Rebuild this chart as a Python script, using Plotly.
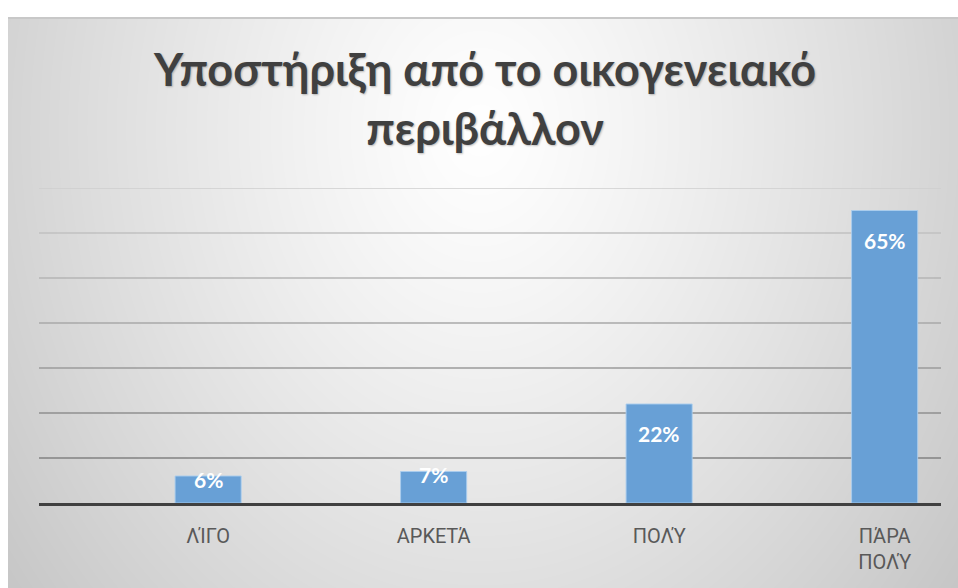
import base64, struct, zlib
import numpy as np
import plotly.graph_objects as go

# ---------------- data ----------------
categories = ["ΛΊΓΟ", "ΑΡΚΕΤΆ", "ΠΟΛΎ", "ΠΆΡΑ ΠΟΛΎ"]
tick_labels = ["ΛΊΓΟ", "ΑΡΚΕΤΆ", "ΠΟΛΎ", "ΠΆΡΑ<br>ΠΟΛΎ"]
values = [0.06, 0.07, 0.22, 0.65]
value_labels = ["6%", "7%", "22%", "65%"]
y_ticks = [0.1, 0.2, 0.3, 0.4, 0.5, 0.6, 0.7]
title_text = "Υποστήριξη από το οικογενειακό<br>περιβάλλον"

# ---------------- layout geometry ----------------
W, H = 958, 588
ML, MR, MT, MB = 39, 17, 188, 85
PW, PH = W - ML - MR, H - MT - MB
FRAME_L, FRAME_T = 8, 17


def png_gray(arr):
    h, w = arr.shape
    raw = b"".join(b"\x00" + arr[i].astype(np.uint8).tobytes() for i in range(h))

    def chunk(t, d):
        c = struct.pack(">I", len(d)) + t + d
        return c + struct.pack(">I", zlib.crc32(t + d) & 0xFFFFFFFF)

    return (b"\x89PNG\r\n\x1a\n" + chunk(b"IHDR", struct.pack(">IIBBBBB", w, h, 8, 0, 0, 0, 0))
            + chunk(b"IDAT", zlib.compress(raw, 9)) + chunk(b"IEND", b""))


# radial grey gradient background (chart area style)
gw, gh = W - FRAME_L, H - FRAME_T
yy, xx = np.mgrid[0:gh, 0:gw].astype(float)
cx, cy = 480 - FRAME_L, 130 - FRAME_T
d = np.sqrt(((xx - cx) / 560.0) ** 2 + ((yy - cy) / 700.0) ** 2)
g = 255 - 52 * np.clip(d, 0, 1.15) ** 1.2
g[0:2, :] = 200
g = np.clip(g, 0, 255)
img_src = "data:image/png;base64," + base64.b64encode(png_gray(g)).decode()

fig = go.Figure()
fig.add_trace(go.Bar(
    x=categories, y=values, width=0.293,
    marker=dict(color="rgb(104,160,214)", line=dict(color="rgba(170,205,238,0.9)", width=1)),
    hoverinfo="skip",
))

# data labels
ymax = 0.70
for c, v, t in zip(categories, values, value_labels):
    tall = v > 0.1
    fig.add_annotation(
        x=c, y=v, text=t, showarrow=False,
        yanchor="top" if tall else "middle",
        yshift=-15 if tall else -3,
        font=dict(family="Lato, Open Sans, sans-serif", size=21, color="white", weight="bold"),
    )

# gridlines (lighter at top, darker toward the baseline)
for v in y_ticks:
    f = (v - 0.1) / 0.6
    col = int(round(0x82 + f * (0xce - 0x82)))
    fig.add_shape(type="line", xref="paper", yref="y", x0=0, x1=1, y0=v, y1=v,
                  line=dict(color=f"rgb({col},{col},{col})", width=1.6), layer="below")

fig.add_layout_image(dict(
    source=img_src, xref="paper", yref="paper",
    x=(FRAME_L - ML) / PW, y=(H - MB - FRAME_T) / PH,
    sizex=gw / PW, sizey=gh / PH, xanchor="left", yanchor="top",
    sizing="stretch", layer="below",
))

fig.update_layout(
    width=W, height=H,
    margin=dict(l=ML, r=MR, t=MT, b=MB),
    paper_bgcolor="white", plot_bgcolor="rgba(0,0,0,0)",
    showlegend=False,
    title=dict(
        text=title_text, x=485 / W, xanchor="center", y=1 - 86 / H, yanchor="top",
        font=dict(family="Lato, Open Sans, sans-serif", size=45, color="#404040", weight="bold",
                  shadow="1px 1px 2px rgba(0,0,0,0.25)"),
    ),
    xaxis=dict(
        range=[-0.75, 3.25], tickmode="array", tickvals=categories, ticktext=tick_labels,
        showgrid=False, zeroline=False, showline=True, linecolor="#404040", linewidth=3,
        ticks="", ticklabelstandoff=13,
        tickfont=dict(family="Roboto, Liberation Sans, sans-serif", size=20, color="#595959"),
    ),
    yaxis=dict(range=[0, ymax], showgrid=False, zeroline=False, showticklabels=False,
               tickvals=y_ticks),
)

fig.write_html("out.html")
